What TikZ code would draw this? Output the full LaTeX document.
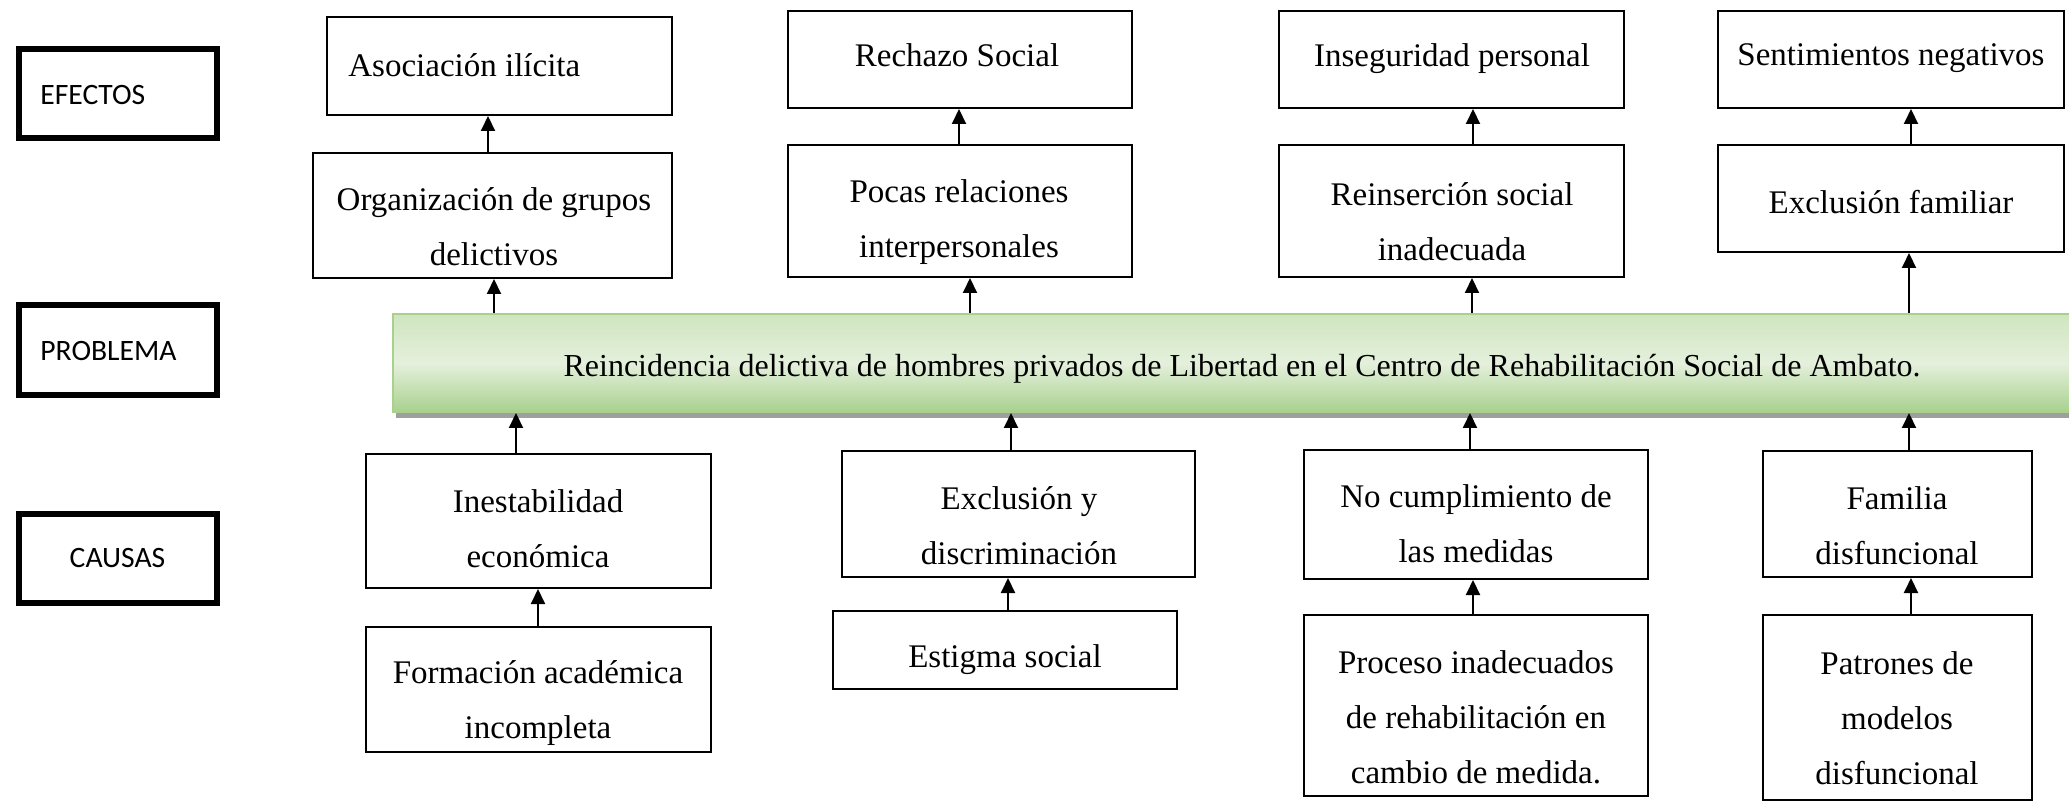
\documentclass[tikz,border=0pt]{standalone}
\usepackage{fontspec}
\setmainfont{Liberation Serif}
\newfontfamily\lblfont{Carlito}
\usetikzlibrary{arrows.meta,calc}
\definecolor{bantop}{HTML}{CFE5BF}
\definecolor{banmid}{HTML}{E4F0DC}
\definecolor{banbot}{HTML}{A9D18E}
\definecolor{banline}{HTML}{A9D18E}
\tikzset{
  box/.style={draw=black, line width=1pt, inner sep=0pt, rectangle},
  lblbox/.style={draw=black, line width=3pt, inner sep=0pt, rectangle},
  txt/.style={inner sep=0pt, align=center, font=\fontsize{16.5}{27.5}\selectfont},
  lbltxt/.style={inner sep=0pt, font=\lblfont\fontsize{14.8}{18}\selectfont},
  arr/.style={line width=1pt, -{Triangle[length=7.5pt,width=7pt]}},
  plain/.style={line width=1pt}
}
\begin{document}
\begin{tikzpicture}[x=0.5pt,y=-0.5pt]
\useasboundingbox (0,0) rectangle (2069,802);
% left labels
\node[lblbox, minimum width=99pt, minimum height=44.5pt] (efe) at (118,93.5) {};
\node[lblbox, minimum width=99pt, minimum height=45pt] (pro) at (118,350) {};
\node[lblbox, minimum width=99pt, minimum height=44.5pt] (cau) at (118,558.5) {};
\node[lbltxt, anchor=west] at (40,95) {EFECTOS};
\node[lbltxt, anchor=west] at (40,351) {PROBLEMA};
\node[lbltxt] at (117.5,558) {CAUSAS};
% effects row 1
\node[box, minimum width=172.5pt, minimum height=49pt] (a1) at (499.5,66) {};
\node[box, minimum width=172pt, minimum height=48.5pt] (a2) at (960,59.5) {};
\node[box, minimum width=172.5pt, minimum height=48.5pt] (a3) at (1451.5,59.5) {};
\node[box, minimum width=173pt, minimum height=48.5pt] (a4) at (1891,59.5) {};
\node[txt, anchor=west] at (348,65) {Asociación ilícita};
\node[txt] at (957,55) {Rechazo Social};
\node[txt] at (1452,59) {Inseguridad personal};
\node[txt] at (1891,58) {Sentimientos negativos};
% effects row 2
\node[box, minimum width=179.5pt, minimum height=62.5pt] (o1) at (492.5,215.5) {};
\node[box, minimum width=172pt, minimum height=66pt] (o2) at (960,211) {};
\node[box, minimum width=172.5pt, minimum height=66pt] (o3) at (1451.5,211) {};
\node[box, minimum width=173pt, minimum height=53.5pt] (o4) at (1891,198.5) {};
\node[txt] at (494,227) {Organización de grupos\\delictivos};
\node[txt] at (959,222.5) {Pocas relaciones\\interpersonales};
\node[txt] at (1452,222) {Reinserción social\\inadecuada};
\node[txt] at (1891,202) {Exclusión familiar};
% banner
\fill[gray!75] (396,319) rectangle (2080,418);
\node[draw=banline, line width=1pt, top color=bantop, bottom color=banbot, middle color=banmid,
      minimum width=843.5pt, minimum height=49pt, inner sep=0pt] (ban) at (1236.5,363) {};
\node[txt, font=\fontsize{16}{20}\selectfont] (bantxt) at (1242,369) {Reincidencia delictiva de hombres privados de Libertad en el Centro de Rehabilitación Social de Ambato.};
% causes row 1
\node[box, minimum width=172.5pt, minimum height=67pt] (c1) at (538.5,521) {};
\node[box, minimum width=176.5pt, minimum height=63pt] (c2) at (1018.5,514) {};
\node[box, minimum width=172pt, minimum height=64.5pt] (c3) at (1476,514.5) {};
\node[box, minimum width=134.5pt, minimum height=63pt] (c4) at (1897.5,514) {};
\node[txt] at (538,528.5) {Inestabilidad\\económica};
\node[txt] at (1019,526) {Exclusión y\\discriminación};
\node[txt] at (1476,524) {No cumplimiento de\\las medidas};
\node[txt] at (1897,526) {Familia\\disfuncional};
% causes row 2
\node[box, minimum width=172.5pt, minimum height=62.5pt] (d1) at (538.5,689.5) {};
\node[box, minimum width=172pt, minimum height=39pt] (d2) at (1005,650) {};
\node[box, minimum width=172pt, minimum height=90.5pt] (d3) at (1476,705.5) {};
\node[box, minimum width=134.5pt, minimum height=92.5pt] (d4) at (1897.5,707.5) {};
\node[txt] at (538,703) {Formación académica\\incompleta};
\node[txt] at (1005,660) {Estigma social};
\node[txt] at (1476,717.5) {Proceso inadecuados\\de rehabilitación en\\cambio de medida.};
\node[txt] at (1897,718.5) {Patrones de\\modelos\\disfuncional};
% arrow x positions
\coordinate (x1) at (488,0);   \coordinate (x2) at (494,0);
\coordinate (x3) at (516,0);   \coordinate (x4) at (538,0);
\coordinate (y1) at (959,0);   \coordinate (y2) at (970,0);
\coordinate (y3) at (1011,0);  \coordinate (y4) at (1008,0);
\coordinate (z1) at (1473,0);  \coordinate (z2) at (1472,0);
\coordinate (z3) at (1470,0);  \coordinate (z4) at (1473,0);
\coordinate (w1) at (1911,0);  \coordinate (w2) at (1909,0);
\coordinate (w3) at (1909,0);  \coordinate (w4) at (1911,0);
% connectors
\draw[arr] (o1.north -| x1) -- (a1.south -| x1);
\draw[arr] (ban.north -| x2) -- (o1.south -| x2);
\draw[arr] (c1.north -| x3) -- (ban.south -| x3);
\draw[arr] (d1.north -| x4) -- (c1.south -| x4);
\draw[arr] (o2.north -| y1) -- (a2.south -| y1);
\draw[arr] (ban.north -| y2) -- (o2.south -| y2);
\draw[arr] (c2.north -| y3) -- (ban.south -| y3);
\draw[arr] (d2.north -| y4) -- (c2.south -| y4);
\draw[arr] (o3.north -| z1) -- (a3.south -| z1);
\draw[arr] (ban.north -| z2) -- (o3.south -| z2);
\draw[arr] (c3.north -| z3) -- (ban.south -| z3);
\draw[arr] (d3.north -| z4) -- (c3.south -| z4);
\draw[arr] (o4.north -| w1) -- (a4.south -| w1);
\draw[arr] (ban.north -| w2) -- (o4.south -| w2);
\draw[arr] (c4.north -| w3) -- (ban.south -| w3);
\draw[arr] (d4.north -| w4) -- (c4.south -| w4);
\end{tikzpicture}
\end{document}
